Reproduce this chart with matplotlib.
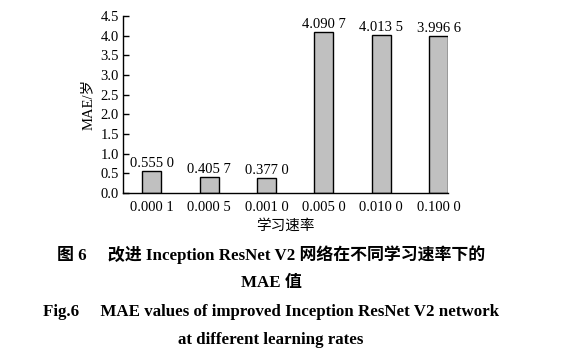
import numpy as np
import matplotlib
matplotlib.use('Agg')
import matplotlib.pyplot as plt

# datos
tasas = ['0.000 1', '0.000 5', '0.001 0', '0.005 0', '0.010 0', '0.100 0']
mae = [0.5550, 0.4057, 0.3770, 4.0907, 4.0135, 3.9966]
etiquetas = ['0.555 0', '0.405 7', '0.377 0', '4.090 7', '4.013 5', '3.996 6']
yticks = np.arange(0, 4.51, 0.5)

FUENTE = ['Liberation Serif', 'Noto Sans CJK SC']
plt.rcParams['font.family'] = FUENTE
plt.rcParams['axes.unicode_minus'] = False

fig = plt.figure(figsize=(5.67, 3.61), dpi=100)
ax = fig.add_axes([0.217, 0.4654, 0.573, 0.4903])

x = np.arange(len(tasas))
ax.bar(x, mae, width=0.33, color='#c0c0c0', edgecolor='black', linewidth=1.0)

for xi, v, t in zip(x, mae, etiquetas):
    ax.annotate(t, (xi, v), xytext=(0, 0.5), textcoords='offset points',
                ha='center', va='bottom', fontsize=10.5)

ax.set_xlim(-0.5, 5.16)
ax.set_ylim(0, 4.5)
ax.set_xticks(x)
ax.set_xticklabels(tasas, fontsize=10.5)
ax.set_yticks(yticks)
ax.set_yticklabels([f'{t:.1f}' for t in yticks], fontsize=10.5)
ax.tick_params(axis='x', length=0, pad=6)
ax.tick_params(axis='y', direction='in', length=4, width=1, pad=3)
ax.spines['top'].set_visible(False)
ax.spines['right'].set_visible(False)
for s in ['left', 'bottom']:
    ax.spines[s].set_linewidth(1.0)

ax.set_ylabel('MAE/岁', fontsize=10.5, labelpad=4)
ax.set_xlabel('学习速率', fontsize=10.5, labelpad=3)

# pie de figura
cx = 0.478
fig.text(cx, 1 - 255 / 361, '图 6     改进 Inception ResNet V2 网络在不同学习速率下的',
         ha='center', va='center', fontsize=12.2, fontweight='bold')
fig.text(cx, 1 - 283 / 361, 'MAE 值', ha='center', va='center',
         fontsize=12.2, fontweight='bold')
fig.text(cx, 1 - 312 / 361, 'Fig.6     MAE values of improved Inception ResNet V2 network',
         ha='center', va='center', fontsize=12.2, fontweight='bold')
fig.text(cx, 1 - 340 / 361, 'at different learning rates', ha='center', va='center',
         fontsize=12.2, fontweight='bold')

fig.savefig('out.png', dpi=100)
